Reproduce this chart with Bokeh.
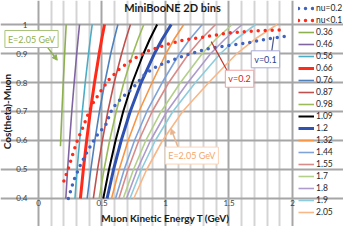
from bokeh.plotting import figure
from bokeh.models import (FixedTicker, Legend, LegendItem, Label, Arrow,
                          NormalHead, Range1d)
from bokeh.embed import file_html
from bokeh.resources import INLINE

# ---------------- data ----------------
# constant-neutrino-energy curves: muon kinetic energy T (GeV) at given cos(theta)
energy_labels = ["0.36", "0.46", "0.56", "0.66", "0.76", "0.87", "0.98", "1.09",
                 "1.2", "1.32", "1.44", "1.55", "1.7", "1.8", "1.9", "2.05"]

cos_036 = [0.58, 0.70, 0.80, 0.90, 1.00]
t_036 = [0.173, 0.1845, 0.195, 0.206, 0.218]

cos_grid = [0.40, 0.50, 0.60, 0.70, 0.80, 0.90, 0.95, 1.00]
t_046 = [0.215, 0.229, 0.245, 0.262, 0.281, 0.301, 0.312, 0.323]
t_056 = [0.287, 0.304, 0.324, 0.345, 0.368, 0.394, 0.408, 0.423]
t_066 = [0.330, 0.353, 0.379, 0.408, 0.441, 0.478, 0.498, 0.520]
t_076 = [0.383, 0.412, 0.444, 0.480, 0.522, 0.569, 0.596, 0.625]
t_087 = [0.432, 0.465, 0.503, 0.546, 0.596, 0.655, 0.688, 0.724]
t_098 = [0.478, 0.516, 0.560, 0.612, 0.672, 0.743, 0.784, 0.829]
t_109 = [0.510, 0.555, 0.607, 0.667, 0.739, 0.827, 0.877, 0.934]
t_120 = [0.540, 0.591, 0.651, 0.722, 0.808, 0.913, 0.975, 1.045]
t_132 = [0.575, 0.635, 0.706, 0.791, 0.895, 1.004, 1.069, 1.144]
t_144 = [0.607, 0.675, 0.756, 0.853, 0.974, 1.111, 1.193, 1.289]
t_155 = [0.633, 0.705, 0.790, 0.895, 1.026, 1.184, 1.281, 1.394]
t_170 = [0.667, 0.748, 0.845, 0.966, 1.118, 1.290, 1.398, 1.525]
t_180 = [0.693, 0.778, 0.882, 1.011, 1.176, 1.356, 1.469, 1.604]
t_190 = [0.720, 0.810, 0.920, 1.058, 1.236, 1.433, 1.558, 1.709]
t_205 = [0.750, 0.852, 0.977, 1.135, 1.341, 1.562, 1.705, 1.879]

# energy-transfer curves (dotted)
nu02_t = [0.235, 0.28, 0.33, 0.39, 0.46, 0.53, 0.58, 0.65, 0.74, 0.84, 0.95,
          1.07, 1.20, 1.35, 1.50, 1.65, 1.80, 1.96]
nu02_cos = [0.40, 0.465, 0.515, 0.567, 0.617, 0.655, 0.71, 0.745, 0.78, 0.83,
            0.86, 0.88, 0.90, 0.918, 0.928, 0.937, 0.95, 0.96]
nu01_t = [0.20, 0.24, 0.275, 0.31, 0.35, 0.39, 0.43, 0.49, 0.555, 0.64, 0.75,
          0.87, 1.00, 1.15, 1.33, 1.50, 1.70, 1.93]
nu01_cos = [0.46, 0.51, 0.56, 0.605, 0.645, 0.69, 0.73, 0.77, 0.81, 0.848,
            0.882, 0.91, 0.93, 0.947, 0.959, 0.971, 0.978, 0.982]

x_ticks = [0, 0.5, 1, 1.5, 2]
x_minor = [0.1, 0.2, 0.3, 0.4, 0.6, 0.7, 0.8, 0.9, 1.1, 1.2, 1.3, 1.4,
           1.6, 1.7, 1.8, 1.9]
y_ticks = [0.4, 0.5, 0.6, 0.7, 0.8, 0.9, 1.0]

# ---------------- style ----------------
FONT = "Lato"
curves = [
    (cos_036, t_036, "#8DB04F", 1.6),
    (cos_grid, t_046, "#8064A2", 1.6),
    (cos_grid, t_056, "#4BACC6", 1.6),
    (cos_grid, t_066, "#FF2A1A", 3.0),
    (cos_grid, t_076, "#4F81BD", 1.6),
    (cos_grid, t_087, "#C0504D", 1.6),
    (cos_grid, t_098, "#9BBB59", 1.6),
    (cos_grid, t_109, "#000000", 2.0),
    (cos_grid, t_120, "#2F52B0", 3.0),
    (cos_grid, t_132, "#F79646", 1.6),
    (cos_grid, t_144, "#7FA3D9", 1.6),
    (cos_grid, t_155, "#D98B89", 1.6),
    (cos_grid, t_170, "#B3D08A", 1.6),
    (cos_grid, t_180, "#AD9BCB", 1.6),
    (cos_grid, t_190, "#8DCCDD", 1.6),
    (cos_grid, t_205, "#F9B787", 1.6),
]

# frame covers the whole canvas; data region 0..2 x 0.4..1 sits inside it
p = figure(width=343, height=226, title=None,
           x_range=Range1d(-0.2992, 2.4016), y_range=Range1d(0.3034, 1.0828),
           output_backend="svg", toolbar_location=None,
           min_border_left=0, min_border_right=0, min_border_top=0, min_border_bottom=0)
p.outline_line_color = None

xt = FixedTicker(ticks=x_ticks, minor_ticks=x_minor)
p.xaxis.ticker = xt
p.xgrid.ticker = xt
p.yaxis.ticker = FixedTicker(ticks=y_ticks)
p.ygrid.ticker = FixedTicker(ticks=y_ticks)
p.xaxis.major_label_overrides = {0: "0", 0.5: "0.5", 1: "1", 1.5: "1.5", 2: "2"}
p.yaxis.major_label_overrides = {0.4: "0.4", 0.5: "0.5", 0.6: "0.6", 0.7: "0.7",
                                 0.8: "0.8", 0.9: "0.9", 1: "1"}
for ax in (p.xaxis[0], p.yaxis[0]):
    ax.axis_line_color = None
    ax.major_tick_line_color = None
    ax.minor_tick_line_color = None
    ax.major_tick_out = 0
    ax.major_tick_in = 0
    ax.minor_tick_out = 0
    ax.minor_tick_in = 0
    ax.major_label_text_font = FONT
    ax.major_label_text_font_size = "8px"
    ax.major_label_text_color = "#404040"
    ax.axis_label_text_font = FONT
    ax.axis_label_text_font_style = "bold"
    ax.axis_label_text_color = "#1a1a1a"
p.xaxis.axis_label_text_font_size = "10px"
p.yaxis.axis_label_text_font_size = "10px"
p.xaxis.fixed_location = 0.4
p.xaxis.bounds = (0, 2)
p.yaxis.fixed_location = 0
p.yaxis.bounds = (0.4, 1.0)
p.xaxis.axis_label = "Muon Kinetic Energy T (GeV)"
p.yaxis.axis_label = "Cos(theta)-Muon"
p.xaxis.major_label_standoff = 2
p.xaxis.axis_label_standoff = 2
p.yaxis.major_label_standoff = 11
p.yaxis.axis_label_standoff = 0

p.xgrid.bounds = (0.4, 1.0)
p.ygrid.bounds = (0, 2)
p.xgrid.grid_line_color = "#a6a6a6"
p.xgrid.grid_line_width = 2
p.xgrid.minor_grid_line_color = "#d4d4d4"
p.xgrid.minor_grid_line_width = 2
p.ygrid.grid_line_color = "#a6a6a6"
p.ygrid.grid_line_width = 2

# title
p.add_layout(Label(x=1.055, y=1.0586, text="MiniBooNE 2D bins", text_font=FONT,
                   text_font_size="11px", text_font_style="bold", text_color="#1a1a1a",
                   text_align="center", text_baseline="middle"))

items = []
line_renderers = []
for (cs, ts, col, w), lab in zip(curves, energy_labels):
    r = p.line(ts, cs, line_color=col, line_width=w)
    line_renderers.append((lab, r))

r_nu02 = p.line(nu02_t, nu02_cos, line_color="#3F63C0", line_width=3.5,
                line_dash="0 7", line_cap="round")
r_nu01 = p.line(nu01_t, nu01_cos, line_color="#FF2A1A", line_width=3.5,
                line_dash="0 7", line_cap="round")

items.append(LegendItem(label="nu=0.2", renderers=[r_nu02]))
items.append(LegendItem(label="nu<0.1", renderers=[r_nu01]))
for lab, r in line_renderers:
    items.append(LegendItem(label=lab, renderers=[r]))

legend = Legend(items=items, location=(298, 8), orientation="vertical",
                glyph_width=16, glyph_height=12, label_height=12, spacing=0,
                label_standoff=2, padding=0, margin=0,
                label_text_font=FONT, label_text_font_size="8.5px",
                label_text_color="#262626",
                background_fill_alpha=0, border_line_color=None)
p.add_layout(legend, "center")

# ---------------- annotations ----------------
def box(x, y, text, tcol, bcol):
    p.add_layout(Label(x=x, y=y, text=text, text_font=FONT, text_font_size="9px",
                       text_color=tcol, text_align="center", text_baseline="middle",
                       background_fill_color="white", border_line_color=bcol,
                       border_line_width=1, padding=3))

p.add_layout(Arrow(x_start=0.07, y_start=0.922, x_end=0.148, y_end=0.877,
                   line_color="#8DB04F", line_width=1.5,
                   end=NormalHead(size=5, fill_color="#8DB04F", line_color="#8DB04F")))
box(-0.055, 0.95, "E=2.05 GeV", "#8DB04F", "#A9C47A")

p.add_layout(Arrow(x_start=1.10, y_start=0.575, x_end=1.045, y_end=0.64,
                   line_color="#E8B48C", line_width=1.5,
                   end=NormalHead(size=5, fill_color="#E8B48C", line_color="#E8B48C")))
box(1.207, 0.548, "E=2.05 GeV", "#F5A66E", "#FBD3B5")

p.add_layout(Arrow(x_start=1.496, y_start=0.833, x_end=1.36, y_end=0.941,
                   line_color="#C0392B", line_width=1.2, end=None))
box(1.583, 0.813, "v=0.2", "#E02020", "#F0A0A0")

p.add_layout(Arrow(x_start=1.835, y_start=0.902, x_end=1.853, y_end=0.958,
                   line_color="#4A5A8A", line_width=1.2, end=None))
box(1.787, 0.88, "v=0.1", "#1F3F8F", "#A8A8D8")

open("out.html", "w").write(file_html(p, INLINE))
